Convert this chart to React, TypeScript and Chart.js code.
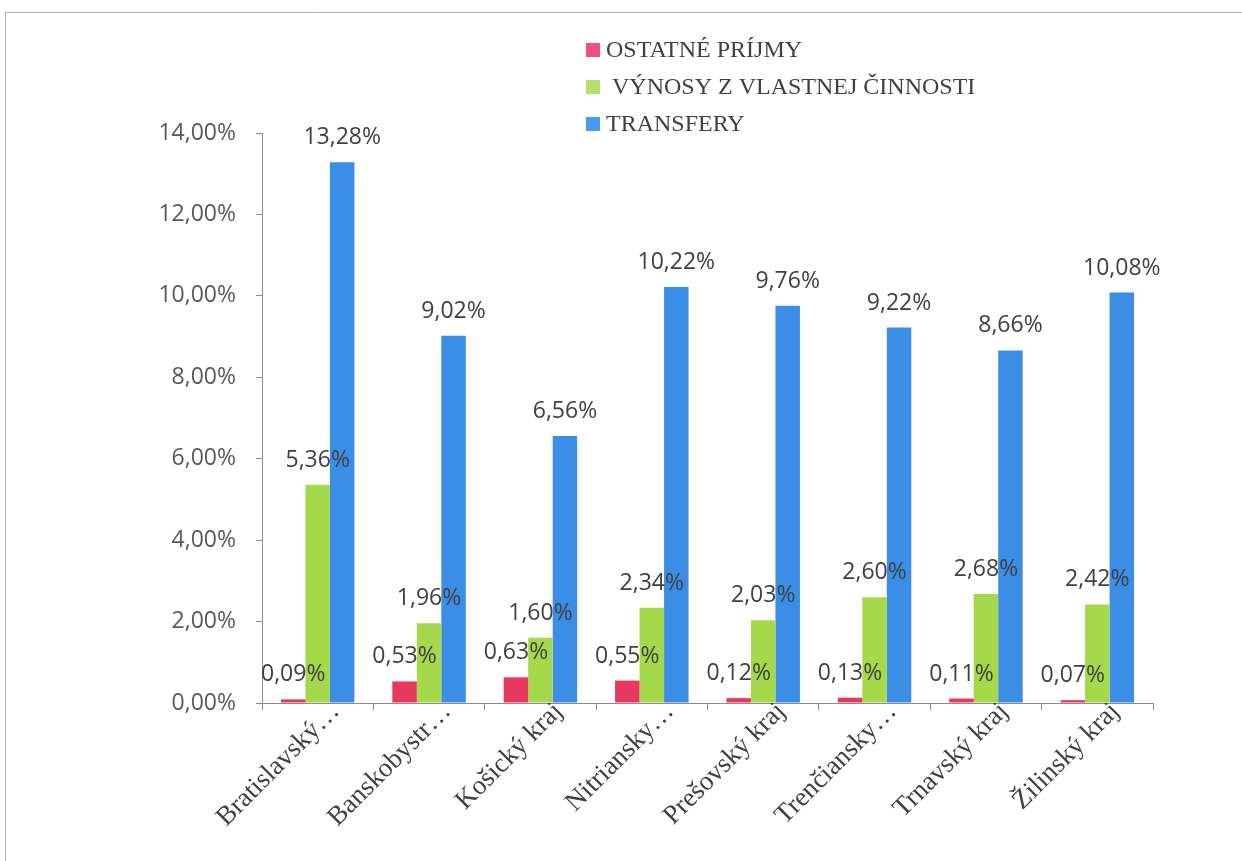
import { useEffect, useRef } from 'react';
import { Chart, registerables } from 'chart.js';

Chart.register(...registerables);

const categories = [
  'Bratislavský…',
  'Banskobystr…',
  'Košický kraj',
  'Nitriansky…',
  'Prešovský kraj',
  'Trenčiansky…',
  'Trnavský kraj',
  'Žilinský kraj',
];
const ostatnePrijmy = [0.09, 0.53, 0.63, 0.55, 0.12, 0.13, 0.11, 0.07];
const vynosyZVlastnejCinnosti = [5.36, 1.96, 1.6, 2.34, 2.03, 2.6, 2.68, 2.42];
const transfery = [13.28, 9.02, 6.56, 10.22, 9.76, 9.22, 8.66, 10.08];
const seriesNames = ['OSTATNÉ PRÍJMY', ' VÝNOSY Z VLASTNEJ ČINNOSTI', 'TRANSFERY'];
const seriesColors = ['#E8385E', '#A6D84C', '#3B8DE6'];
const legendColors = ['#F0507E', '#B4E06A', '#4A9AEE'];
const yMin = 0;
const yMax = 14;
const yStep = 2;

const fmt = (v: number) => v.toFixed(2).replace('.', ',') + '%';

const W = 1242;
const H = 861;

export default function App() {
  const ref = useRef<HTMLCanvasElement | null>(null);

  useEffect(() => {
    if (!ref.current) return;

    const framePlugin = {
      id: 'frame',
      beforeDraw(chart: any) {
        const ctx = chart.ctx;
        ctx.save();
        ctx.fillStyle = '#ffffff';
        ctx.fillRect(0, 0, chart.width, chart.height);
        ctx.strokeStyle = '#b0b0b0';
        ctx.lineWidth = 1;
        ctx.beginPath();
        ctx.moveTo(5.5, H);
        ctx.lineTo(5.5, 12.5);
        ctx.lineTo(W, 12.5);
        ctx.stroke();
        ctx.restore();
      },
    };

    const dataLabelPlugin = {
      id: 'dataLabels',
      afterDatasetsDraw(chart: any) {
        const ctx = chart.ctx;
        ctx.save();
        ctx.font = '23px "Open Sans"';
        ctx.fillStyle = '#404040';
        ctx.textAlign = 'center';
        ctx.textBaseline = 'alphabetic';
        chart.data.datasets.forEach((ds: any, di: number) => {
          const meta = chart.getDatasetMeta(di);
          meta.data.forEach((el: any, i: number) => {
            ctx.fillText(fmt(ds.data[i]), el.x, el.y - 18);
          });
        });
        ctx.restore();
      },
    };

    const legendPlugin = {
      id: 'customLegend',
      afterDraw(chart: any) {
        const ctx = chart.ctx;
        ctx.save();
        const rows = [50, 87, 124];
        ctx.font = '24px "Liberation Serif"';
        ctx.textAlign = 'left';
        ctx.textBaseline = 'middle';
        seriesNames.forEach((name, i) => {
          ctx.fillStyle = legendColors[i];
          ctx.fillRect(586, rows[i] - 7, 14, 14);
          ctx.fillStyle = '#404040';
          ctx.fillText(name, 606, rows[i] + 1);
        });
        ctx.restore();
      },
    };

    const chart = new Chart(ref.current, {
      type: 'bar',
      data: {
        labels: categories,
        datasets: [
          { label: seriesNames[0], data: ostatnePrijmy, backgroundColor: seriesColors[0] },
          { label: seriesNames[1], data: vynosyZVlastnejCinnosti, backgroundColor: seriesColors[1] },
          { label: seriesNames[2], data: transfery, backgroundColor: seriesColors[2] },
        ],
      },
      options: {
        responsive: false,
        animation: false,
        devicePixelRatio: 1,
        layout: { padding: { top: 133, right: 89, left: 0, bottom: 0 } },
        datasets: {
          bar: { categoryPercentage: 0.66, barPercentage: 1 },
        },
        plugins: {
          legend: { display: false },
          tooltip: { enabled: false },
        },
        scales: {
          x: {
            afterFit: (s: any) => {
              s.height = H - 703;
            },
            grid: {
              offset: true,
              drawOnChartArea: false,
              drawTicks: true,
              tickLength: 7,
              color: '#8c8c8c',
            },
            border: { color: '#8c8c8c' },
            ticks: {
              autoSkip: false,
              maxRotation: 45,
              minRotation: 45,
              padding: -14,
              labelOffset: 18,
              color: '#404040',
              font: { family: '"Liberation Serif"', size: 27 },
            },
          },
          y: {
            min: yMin,
            max: yMax,
            afterFit: (s: any) => {
              s.width = 262;
            },
            grid: {
              drawOnChartArea: false,
              drawTicks: true,
              tickLength: 6,
              color: '#8c8c8c',
            },
            border: { color: '#8c8c8c' },
            ticks: {
              stepSize: yStep,
              padding: 20,
              color: '#595959',
              font: { family: '"Open Sans"', size: 23 },
              callback: (v: any) => fmt(Number(v)),
            },
          },
        },
      },
      plugins: [framePlugin, dataLabelPlugin, legendPlugin],
    });

    return () => chart.destroy();
  }, []);

  return (
    <div style={{ position: 'fixed', left: 0, top: 0, width: W, height: H, background: '#fff' }}>
      <canvas ref={ref} width={W} height={H} style={{ display: 'block', width: W, height: H }} />
    </div>
  );
}
